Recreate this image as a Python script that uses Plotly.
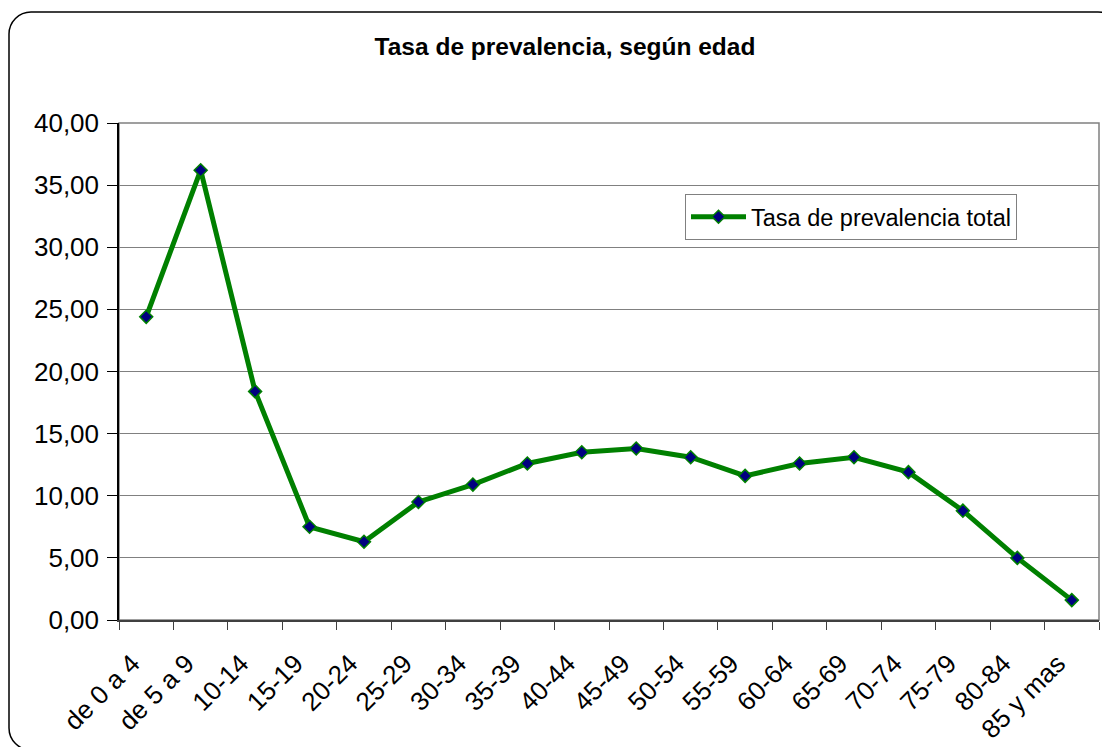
import plotly.graph_objects as go

categories = ["de 0 a 4", "de 5 a 9", "10-14", "15-19", "20-24", "25-29", "30-34",
              "35-39", "40-44", "45-49", "50-54", "55-59", "60-64", "65-69",
              "70-74", "75-79", "80-84", "85 y mas"]
tasa_total = [24.4, 36.2, 18.4, 7.5, 6.3, 9.5, 10.9, 12.6, 13.5, 13.8, 13.1,
              11.6, 12.6, 13.1, 11.9, 8.8, 5.0, 1.6]
y_ticks = [0, 5, 10, 15, 20, 25, 30, 35, 40]

# the page body adds an 8px margin; lay the figure out in page pixels minus that
OFF = 8
W, H = 1110 - OFF, 747 - OFF
PLOT_L, PLOT_R, PLOT_T, PLOT_B = 119 - OFF, 1099 - OFF, 123 - OFF, 620 - OFF
L, R, T, B = PLOT_L, W - PLOT_R, PLOT_T, H - PLOT_B
PW, PH = PLOT_R - PLOT_L, PLOT_B - PLOT_T

def px(x):
    return (x - OFF - PLOT_L) / PW

def py(y):
    return (PLOT_B - (y - OFF)) / PH

def pt(x, y):
    return f"{px(x)},{py(y)}"

FONT = "Liberation Sans, Arial, sans-serif"

fig = go.Figure()
fig.add_trace(go.Scatter(
    x=categories, y=tasa_total, mode="lines+markers",
    name="Tasa de prevalencia total",
    line=dict(color="#008000", width=5),
    marker=dict(symbol="diamond", size=10, color="#000080",
                line=dict(color="#008000", width=1.5)),
))

# rounded chart border (page pixel coordinates)
x0, y0, x1, y1, r = 9, 12, 1120, 750, 22
c = r * (1 - 0.5523)
path = (f"M {pt(x0+r, y0)} L {pt(x1-r, y0)} "
        f"C {pt(x1-c, y0)} {pt(x1, y0+c)} {pt(x1, y0+r)} "
        f"L {pt(x1, y1-r)} "
        f"C {pt(x1, y1-c)} {pt(x1-c, y1)} {pt(x1-r, y1)} "
        f"L {pt(x0+r, y1)} "
        f"C {pt(x0+c, y1)} {pt(x0, y1-c)} {pt(x0, y1-r)} "
        f"L {pt(x0, y0+r)} "
        f"C {pt(x0, y0+c)} {pt(x0+c, y0)} {pt(x0+r, y0)} Z")

fig.update_layout(
    width=W, height=H,
    margin=dict(l=L, r=R, t=T, b=B, pad=0, autoexpand=False),
    paper_bgcolor="white", plot_bgcolor="white",
    separators=",.",
    font=dict(family=FONT, size=26, color="black"),
    title=dict(text="<b>Tasa de prevalencia, según edad</b>",
               x=px(565), xref="paper", xanchor="center",
               y=1 - (46 - OFF) / H, yanchor="middle",
               font=dict(family=FONT, size=24.5, color="black")),
    showlegend=True,
    legend=dict(x=px(685), y=py(194), xanchor="left", yanchor="top",
                bgcolor="white", bordercolor="#808080", borderwidth=1,
                itemwidth=55,
                font=dict(family=FONT, size=23.5, color="black")),
    shapes=[
        dict(type="path", path=path, xref="paper", yref="paper",
             line=dict(color="black", width=1.5), layer="below"),
        dict(type="rect", x0=0, x1=1, y0=0, y1=1, xref="paper", yref="paper",
             line=dict(color="#808080", width=1.5), layer="below"),
    ],
)

fig.update_yaxes(range=[0, 40], tickvals=y_ticks, tickformat=".2f",
                 showgrid=True, gridcolor="#808080", gridwidth=1.3,
                 showline=True, linecolor="black", linewidth=1.5,
                 ticks="outside", ticklen=10, tickcolor="black",
                 ticklabelstandoff=3, automargin=False,
                 zeroline=False, fixedrange=True)
fig.update_xaxes(type="category", range=[-0.5, len(categories) - 0.5],
                 tickson="boundaries", tickangle=-45,
                 ticklabelstandoff=16, ticklabelshift=-14, automargin=False,
                 showgrid=False, showline=True, linecolor="#404040", linewidth=2,
                 ticks="outside", ticklen=8, tickcolor="#404040",
                 fixedrange=True)

fig.write_html("out.html")
